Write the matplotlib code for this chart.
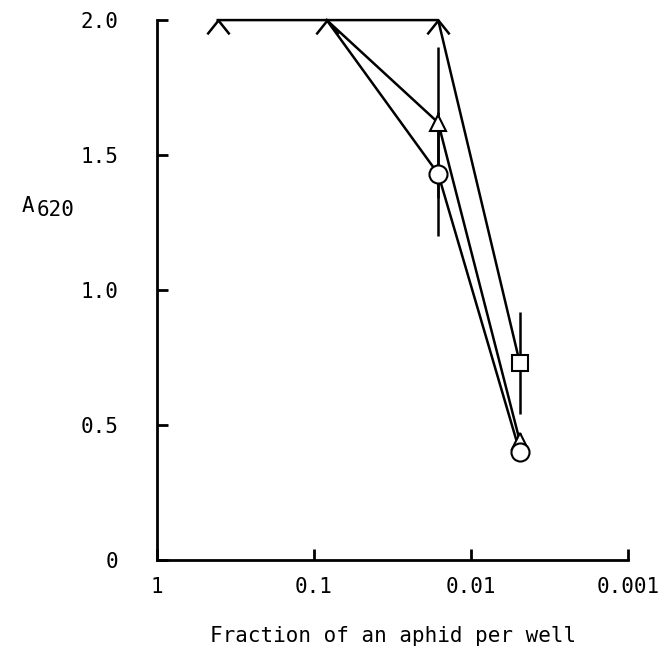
import numpy as np
import matplotlib
matplotlib.use("Agg")
import matplotlib.pyplot as plt
from matplotlib.path import Path

# fraction of an aphid per well (dilution series)
x_square = [0.41, 0.083, 0.0162, 0.0049]
y_square = [2.0, 2.0, 2.0, 0.73]
e_square = [0, 0, 0, 0.19]

x_tri = [0.083, 0.0162, 0.0049]
y_tri = [2.0, 1.62, 0.44]
e_tri = [0, 0.28, 0.03]

x_circ = [0.083, 0.0162, 0.0049]
y_circ = [2.0, 1.43, 0.40]
e_circ = [0, 0.23, 0.03]

xticks = [1, 0.1, 0.01, 0.001]
xticklabels = ["1", "0.1", "0.01", "0.001"]
yticks = [0, 0.5, 1.0, 1.5, 2.0]
yticklabels = ["0", "0.5", "1.0", "1.5", "2.0"]

plt.rcParams["font.family"] = ["DejaVu Sans Mono"]

# open caret marker used where the curves sit at the 2.0 ceiling
caret = Path([(-0.8, -1.0), (0, 0), (0.8, -1.0)], [Path.MOVETO, Path.LINETO, Path.LINETO])

fig = plt.figure(figsize=(6.62, 6.48), dpi=100)
ax = fig.add_axes([0.237, 0.136, 0.712, 0.833])

lw = 1.8
# lines
ax.plot(x_square, y_square, color="black", lw=lw, zorder=2, clip_on=False)
ax.plot(x_tri, y_tri, color="black", lw=lw, zorder=2, clip_on=False)
ax.plot(x_circ, y_circ, color="black", lw=lw, zorder=2, clip_on=False)

# error bars
ax.errorbar(x_square, y_square, yerr=e_square, fmt="none", ecolor="black", elinewidth=lw, capsize=0, zorder=2)
ax.errorbar(x_tri, y_tri, yerr=e_tri, fmt="none", ecolor="black", elinewidth=lw, capsize=0, zorder=2)
ax.errorbar(x_circ, y_circ, yerr=e_circ, fmt="none", ecolor="black", elinewidth=lw, capsize=0, zorder=2)

# markers at the ceiling
top_x = [x_square[i] for i in range(3)]
top_y = [y_square[i] for i in range(3)]
ax.plot(top_x, top_y, ls="none", marker=caret, ms=20, mew=lw, mfc="none", mec="black", zorder=4, clip_on=False)

# markers for the falling points
ax.plot(x_square[3:], y_square[3:], ls="none", marker="s", ms=11, mew=1.5, mfc="white", mec="black", zorder=4)
ax.plot(x_tri[1:], y_tri[1:], ls="none", marker="^", ms=12, mew=1.5, mfc="white", mec="black", zorder=4)
ax.plot(x_circ[1:], y_circ[1:], ls="none", marker="o", ms=13, mew=1.5, mfc="white", mec="black", zorder=5)

ax.set_xscale("log")
ax.set_xlim(1, 0.001)
ax.set_ylim(0, 2.0)
ax.set_xticks(xticks)
ax.set_xticklabels(xticklabels)
ax.minorticks_off()
ax.set_yticks(yticks)
ax.set_yticklabels(yticklabels)

for s in ["top", "right"]:
    ax.spines[s].set_visible(False)
for s in ["left", "bottom"]:
    ax.spines[s].set_linewidth(2)
ax.tick_params(direction="in", length=8, width=2, labelsize=15)
ax.tick_params(axis="y", pad=28)
ax.tick_params(axis="x", pad=12)

ax.set_xlabel("Fraction of an aphid per well", fontsize=15, labelpad=21)
fig.text(0.033, 0.682, "A", fontsize=15, ha="left", va="center")
fig.text(0.056, 0.676, "620", fontsize=15, ha="left", va="center")

fig.savefig("out.png", dpi=100)
